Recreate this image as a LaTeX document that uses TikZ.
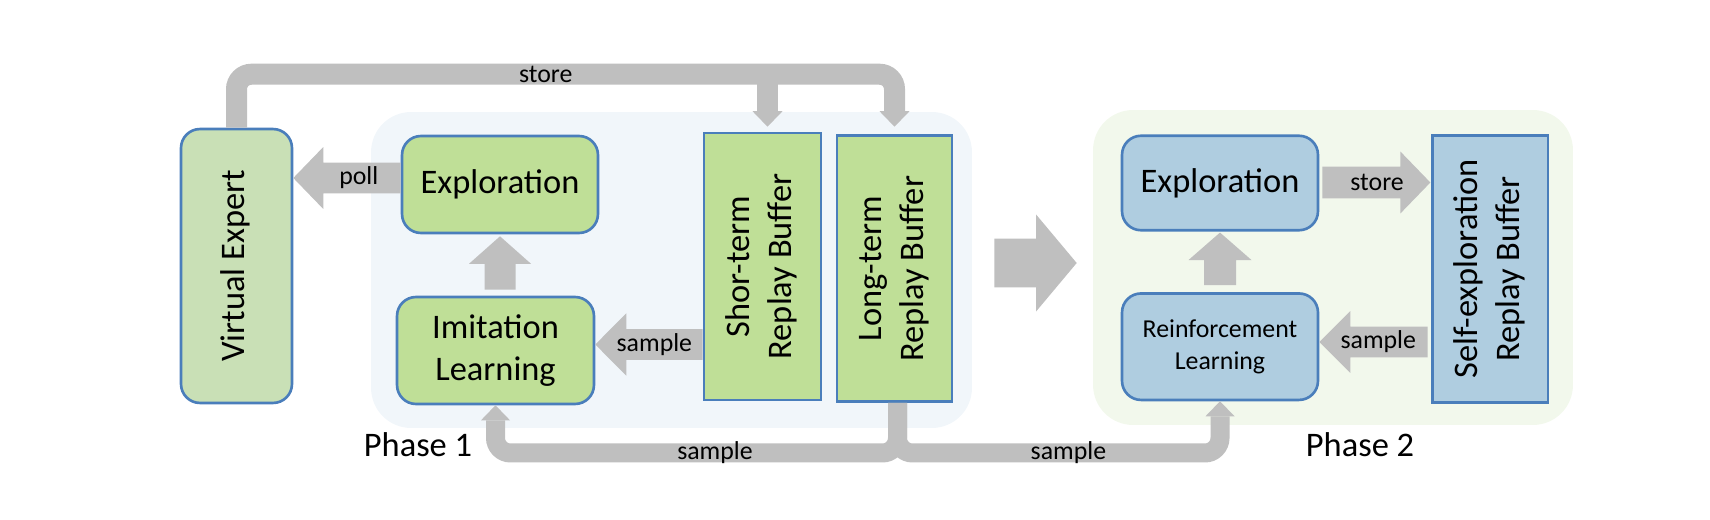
\documentclass[tikz,border=0pt]{standalone}
\usepackage{fontspec}
\setmainfont{Carlito}
\usepackage{graphicx}
\usepackage{xcolor}
\definecolor{LeafGreen}{HTML}{BFDF97}
\definecolor{SageGreen}{HTML}{C9E0B6}
\definecolor{SkyBlue}{HTML}{AFCDE0}
\definecolor{EdgeBlue}{HTML}{4A7EBB}
\definecolor{PipeGray}{HTML}{BFBFBF}
\definecolor{PhaseOne}{HTML}{F1F6FA}
\definecolor{PhaseTwo}{HTML}{F2F8EC}
\usetikzlibrary{arrows.meta,calc}
\newcommand*{\bigfont}{\fontsize{19.6}{23.8}\selectfont}
\newcommand*{\smallfont}{\fontsize{14.7}{18.6}\selectfont}
\newcommand{\vtext}[1]{\rotatebox{90}{\begin{tabular}{@{}c@{}}#1\end{tabular}}}
\newcommand{\fatarrow}[6]{%
% tail, tip, shaft half width, head half width, head length, options
  \coordinate (fa) at ($(#2)!#5!(#1)$);
  \fill[#6] ($(#1)!#3!90:(#2)$) -- ($(fa)!#3!90:(#2)$) -- ($(fa)!#4!90:(#2)$)
    -- (#2) -- ($(fa)!#4!-90:(#2)$) -- ($(fa)!#3!-90:(#2)$)
    -- ($(#1)!#3!-90:(#2)$) -- cycle;
}

\begin{document}
\begin{tikzpicture}[x=0.02cm, y=-0.02cm,
  box/.style={draw=EdgeBlue, line width=1.5pt, rounded corners=0.38cm,
    font=\bigfont, align=center, inner sep=0pt},
  buffer/.style={draw=EdgeBlue, line width=1.5pt, font=\bigfont, inner sep=0pt},
  phase/.style={rounded corners=0.8cm, inner sep=0pt},
  pipe/.style={draw=PipeGray, line width=0.42cm, rounded corners=0.3cm,
    -{Triangle[width=0.6cm,length=0.31cm,line width=0pt]}},
  lowpipe/.style={pipe, line width=0.38cm,
    -{Triangle[width=0.58cm,length=0.3cm,line width=0pt]}},
  lbl/.style={font=\smallfont, inner sep=0pt}]
  \useasboundingbox (0,0) rectangle (1710,520);

  \node[phase, fill=PhaseOne, minimum width=12.02cm, minimum height=6.32cm] (p1) at (671.5,270) {};
  \node[phase, fill=PhaseTwo, minimum width=9.6cm, minimum height=6.3cm] (p2) at (1333,267.5) {};
  \node[anchor=base, font=\bigfont] (p1lbl) at (418,456.7) {Phase 1};
  \node[anchor=base, font=\bigfont] (p2lbl) at (1360,456.7) {Phase 2};

  \node[box, fill=SageGreen, minimum width=2.22cm, minimum height=5.48cm] (ve) at (236.5,266) {\vtext{Virtual Expert}};
  \node[box, fill=LeafGreen, minimum width=3.92cm, minimum height=1.94cm] (ex1) at (500,184.5) {Exploration};
  \node[box, fill=LeafGreen, minimum width=3.94cm, minimum height=2.14cm] (im) at (495.5,350.5) {Imitation\\Learning};
  \node[buffer, fill=LeafGreen, minimum width=2.34cm, minimum height=5.34cm] (st) at (762.5,266.5) {\vtext{Shor-term\\Replay Buffer}};
  \node[buffer, fill=LeafGreen, minimum width=2.30cm, minimum height=5.32cm] (lt) at (894.5,268.7) {\vtext{Long-term\\Replay Buffer}};
  \node[box, fill=SkyBlue, minimum width=3.92cm, minimum height=1.89cm] (ex2) at (1220,183) {Exploration};
  \node[box, fill=SkyBlue, font=\smallfont, minimum width=3.92cm, minimum height=2.13cm] (rl) at (1220,346.7) {Reinforcement\\Learning};
  \node[buffer, fill=SkyBlue, minimum width=2.31cm, minimum height=5.33cm] (se) at (1490.4,269) {\vtext{Self-exploration\\Replay Buffer}};

  \coordinate (pollA) at ($(ex1.west)+(0,-6.5)$);
  \coordinate (pollB) at (ve.east |- pollA);
  \fatarrow{pollA}{pollB}{0.31cm}{0.62cm}{0.6cm}{PipeGray}
  \node[lbl] (polllbl) at ($(pollA)!0.39!(pollB)$) {poll};

  \coordinate (upA) at ($(ex1.south |- im.north)+(0,-6)$);
  \coordinate (upB) at ($(ex1.south)+(0,2)$);
  \fatarrow{upA}{upB}{0.31cm}{0.62cm}{0.55cm}{PipeGray}

  \coordinate (smpB) at ($(im.east)+(0,-6)$);
  \coordinate (smpA) at (st.west |- smpB);
  \fatarrow{smpA}{smpB}{0.31cm}{0.625cm}{0.62cm}{PipeGray}
  \node[lbl] (smplbl) at ($(smpA)!0.45!(smpB)$) {sample};

  \coordinate (nextA) at ($(p1.east)+(22,-7)$);
  \coordinate (nextB) at ($(nextA -| p2.west)+(-16,0)$);
  \fatarrow{nextA}{nextB}{0.487cm}{0.967cm}{0.81cm}{PipeGray}

  \coordinate (keepA) at ($(ex2.east)+(3,-0.5)$);
  \coordinate (keepB) at ($(keepA -| se.west)+(-1,0)$);
  \fatarrow{keepA}{keepB}{0.316cm}{0.62cm}{0.6cm}{PipeGray}
  \node[lbl] (keeplbl) at ($(keepA)!0.507!(keepB)$) {store};

  \coordinate (up2A) at ($(ex2.south |- rl.north)+(0,-7)$);
  \coordinate (up2B) at ($(ex2.south)+(0,1)$);
  \fatarrow{up2A}{up2B}{0.32cm}{0.63cm}{0.55cm}{PipeGray}

  \coordinate (smp2B) at ($(rl.east)+(0,-4.7)$);
  \coordinate (smp2A) at ($(smp2B -| se.west)+(-3.7,0)$);
  \fatarrow{smp2A}{smp2B}{0.31cm}{0.62cm}{0.62cm}{PipeGray}
  \node[lbl] (smp2lbl) at ($(smp2A)!0.456!(smp2B)$) {sample};

  \coordinate (storeturn) at ($(ve.north)+(0,-53.5)$);
  \coordinate (stin) at ($(st.north)+(5,-5)$);
  \draw[pipe] (ve.north) -- (storeturn) -| node[lbl, pos=0.235] (storelbl) {store} ($(lt.north)+(0,-7.7)$);
  \draw[pipe] (stin |- storeturn) -- (stin);

  \coordinate (ltout) at ($(lt.south)+(3,0)$);
  \coordinate (split) at ($(ltout)+(0,50)$);
  \draw[lowpipe] (ltout) -- (split) -| node[lbl, pos=0.227] (drawlbl1) {sample} (im.south);
  \draw[lowpipe] (ltout) -- (split) -| node[lbl, pos=0.265] (drawlbl2) {sample} (rl.south);
\end{tikzpicture}
\end{document}
